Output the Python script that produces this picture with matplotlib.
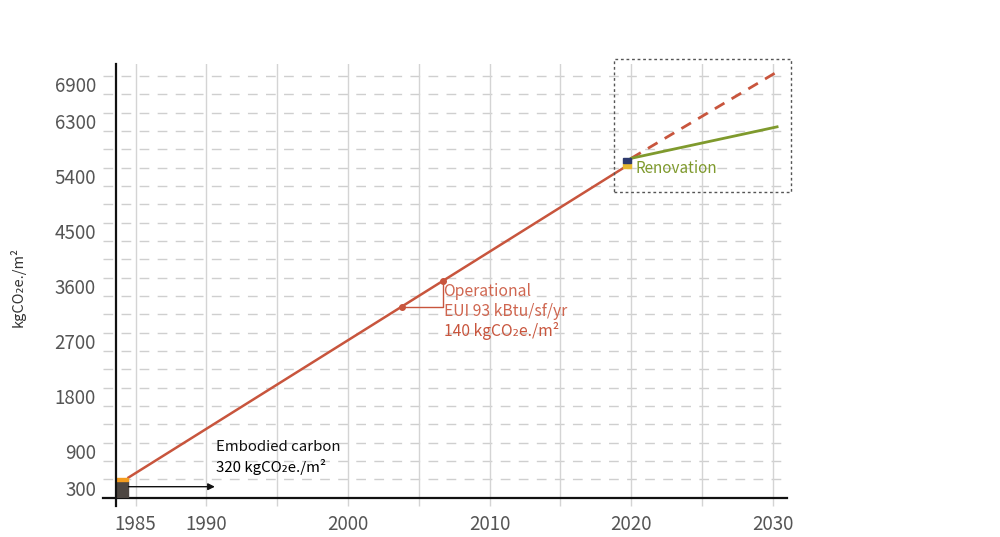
import numpy as np
import matplotlib.pyplot as plt
import matplotlib.transforms as mtransforms
from matplotlib.patches import Rectangle

plt.rcParams['font.family'] = ['Noto Sans CJK JP', 'DejaVu Sans']

# Datos
ytick_vals = [300, 900, 1800, 2700, 3600, 4500, 5400, 6300, 6900]
xtick_label_years = [1985, 1990, 2000, 2010, 2020, 2030]
grid_years = np.arange(1985, 2031, 5)
grid_vals = np.arange(300, 6901, 300)

# Carbono incorporado (barra inicial)
embodied_x = 1983.65
embodied_w = 0.85
embodied_dark = 270
embodied_orange = 60

# Linea operacional
oper_years = [1984.5, 2019.4]
oper_vals = [330, 5390]
oper_marker_years = [2003.8, 2006.7]
oper_marker_vals = [3120, 3540]

# Renovacion
renov_x = 2019.4
renov_w = 0.6
renov_yellow = (5390, 90)
renov_navy = (5480, 75)
future_years = [2020, 2030.3]
future_vals = [5555, 6970]
renov_vals = [5555, 6070]

# Flecha
arrow_years = [1984.5, 1990.6]
arrow_val = 180

red = '#c8553d'
red_text = '#cf6650'
green = '#7f9a2d'

fig = plt.figure(figsize=(10, 5.37), dpi=100)
ax = fig.add_axes([0.103, 0.0732, 0.684, 0.8078])

ax.set_xlim(1982.7, 2031.0)
ax.set_ylim(0, 7100)

# Rejilla
for v in grid_vals:
    ax.axhline(v, color='#cfcfcf', lw=1, dashes=(7, 6), zorder=1)
ax.set_xticks(grid_years)
ax.set_xticklabels([str(y) if y in xtick_label_years else '' for y in grid_years])
ax.grid(True, axis='x', color='#d4d4d4', lw=1, zorder=1)
ax.tick_params(axis='x', direction='out', length=6, width=1, color='#d4d4d4',
               labelsize=13.5, labelcolor='#555555', pad=6)

ax.set_yticks(ytick_vals)
ax.set_yticklabels([str(v) for v in ytick_vals])
ax.tick_params(axis='y', length=0, labelsize=13.5, labelcolor='#555555', pad=5)
offset = mtransforms.ScaledTranslation(0, -6 / 72, fig.dpi_scale_trans)
for lab in ax.get_yticklabels():
    lab.set_transform(lab.get_transform() + offset)

for s in ['top', 'right', 'left']:
    ax.spines[s].set_visible(False)
ax.spines['bottom'].set_linewidth(1.6)
ax.spines['bottom'].set_color('#111111')

# Eje y manual (se extiende bajo el eje x)
ax.plot([embodied_x, embodied_x], [-130, 7100], color='#111111', lw=1.6,
        clip_on=False, zorder=5)

# Barra de carbono incorporado
ax.add_patch(Rectangle((embodied_x, 0), embodied_w, embodied_dark,
                       color='#4d4641', zorder=4))
ax.add_patch(Rectangle((embodied_x, embodied_dark), embodied_w, embodied_orange,
                       color='#f39c1f', zorder=4))

# Flecha
ax.annotate('', xy=(arrow_years[1], arrow_val), xytext=(arrow_years[0], arrow_val),
            arrowprops=dict(arrowstyle='-|>', color='#111111', lw=1,
                            mutation_scale=10, shrinkA=0, shrinkB=0), zorder=5)
ax.text(1990.67, 835, 'Embodied carbon', fontsize=10.8, color='#111111', va='center')
ax.text(1990.67, 505, '320 kgCO\u2082e./m\u00b2', fontsize=10.8, color='#000000',
        va='center')

# Linea operacional
ax.plot(oper_years, oper_vals, color=red, lw=1.8, zorder=3)
ax.plot(oper_marker_years, oper_marker_vals, 'o', color=red, ms=4, zorder=4)
ax.plot([oper_marker_years[0], oper_marker_years[1], oper_marker_years[1]],
        [oper_marker_vals[0], oper_marker_vals[0], oper_marker_vals[1]],
        color=red, lw=1, zorder=3)
ax.text(2006.75, 3371, 'Operational', fontsize=11.3, color=red_text, va='center')
ax.text(2006.75, 3044, 'EUI 93 kBtu/sf/yr', fontsize=11.3, color=red_text, va='center')
ax.text(2006.75, 2733, '140 kgCO\u2082e./m\u00b2', fontsize=11.3, color=red,
        va='center')

# Renovacion
ax.plot(future_years, future_vals, color=red, lw=2, dashes=(4, 3), zorder=3)
ax.plot(future_years, renov_vals, color=green, lw=2, zorder=3)
ax.add_patch(Rectangle((renov_x, renov_yellow[0]), renov_w, renov_yellow[1],
                       color='#e8b830', zorder=4))
ax.add_patch(Rectangle((renov_x, renov_navy[0]), renov_w, renov_navy[1],
                       color='#2e3a6e', zorder=4))
ax.text(2020.3, 5380, 'Renovation', fontsize=11, color=green, va='center')

# Recuadro punteado
ax.add_patch(Rectangle((2018.8, 5010), 12.5, 2165, fill=False, edgecolor='#555555',
                       lw=1, linestyle=(0, (2, 2)), clip_on=False, zorder=6))

fig.text(0.018, 0.465, 'kgCO\u2082e./m\u00b2', rotation=90, fontsize=10.5,
         color='#333333', va='center', ha='center')

plt.savefig('out.png', dpi=100, facecolor='white')
